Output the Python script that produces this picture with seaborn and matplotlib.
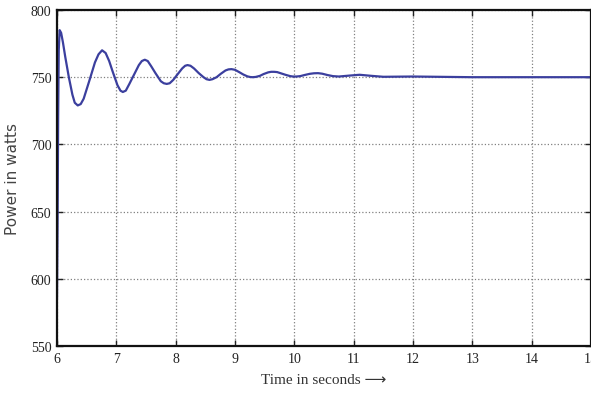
import matplotlib
matplotlib.use('Agg')
import matplotlib.pyplot as plt
import seaborn as sns
import pandas as pd

# values
time_s = [6.00, 6.01, 6.02, 6.03, 6.045, 6.07, 6.10, 6.14, 6.20, 6.26, 6.30, 6.35, 6.40,
          6.45, 6.55, 6.64, 6.70, 6.76, 6.82, 6.88, 6.94, 7.02, 7.07, 7.11, 7.16,
          7.22, 7.30, 7.38, 7.43, 7.48, 7.53, 7.59, 7.66, 7.75, 7.80, 7.85, 7.90,
          7.96, 8.03, 8.11, 8.16, 8.20, 8.25, 8.31, 8.39, 8.47, 8.52, 8.57, 8.62,
          8.69, 8.76, 8.84, 8.89, 8.94, 9.00, 9.07, 9.14, 9.21, 9.26, 9.30, 9.35,
          9.42, 9.48, 9.56, 9.61, 9.66, 9.71, 9.78, 9.85, 9.93, 9.98, 10.03, 10.10,
          10.18, 10.26, 10.33, 10.40, 10.47, 10.56, 10.65, 10.75, 10.93, 11.10,
          11.30, 11.50, 12.00, 13.00, 14.00, 15.00]
power_w = [585, 640, 720, 770, 785, 783, 776, 765, 750, 737, 731, 729, 730,
           734, 748, 761, 767, 770, 768, 762, 754, 744, 740, 739, 740,
           745, 752, 759, 762, 763, 762, 758, 753, 747, 745.5, 745, 745.5,
           748, 752, 756.5, 758.5, 759, 758.5, 756.5, 753, 750, 748.5, 748, 748.5,
           750, 752.5, 755, 755.8, 756, 755.5, 753.8, 752, 750.6, 750.1, 750, 750.2,
           751, 752.3, 753.6, 754, 754, 753.8, 752.8, 751.8, 750.8, 750.5, 750.5, 750.8,
           751.7, 752.5, 752.9, 753, 752.6, 751.6, 750.8, 750.5, 751.2, 751.8,
           751, 750.3, 750.5, 750, 750, 750]
x_ticks = [6, 7, 8, 9, 10, 11, 12, 13, 14, 15]
y_ticks = [550, 600, 650, 700, 750, 800]

df = pd.DataFrame({'t': time_s, 'p': power_w})

sns.set_style('white')
plt.rcParams['font.family'] = ['Liberation Serif', 'DejaVu Sans']

fig = plt.figure(figsize=(5.91, 4.06), dpi=100)
ax = fig.add_axes([0.0964, 0.145, 0.9036, 0.828])

sns.lineplot(data=df, x='t', y='p', ax=ax, color='#3b3f9e', linewidth=1.6)

ax.set_xlim(6, 15)
ax.set_ylim(550, 800)
ax.set_xticks(x_ticks)
ax.set_yticks(y_ticks)
ax.set_xticklabels([str(v) for v in x_ticks], fontsize=10)
ax.set_yticklabels([str(v) for v in y_ticks], fontsize=10)
ax.grid(True, linestyle=':', color='#808080', linewidth=0.9)
ax.tick_params(direction='in', length=4, width=1, top=True, right=True,
               bottom=True, left=True, pad=4, colors='#222222')
for s in ax.spines.values():
    s.set_color('#111111')
    s.set_linewidth(1.6)

ax.set_xlabel('Time in seconds \u27f6', fontsize=11, color='#333333',
              family=['Liberation Serif', 'DejaVu Sans'], labelpad=6)
ax.set_ylabel('Power in watts', fontsize=11, color='#444444',
              family=['DejaVu Sans'], labelpad=8)

fig.savefig('out.png', dpi=100)
plt.close(fig)
